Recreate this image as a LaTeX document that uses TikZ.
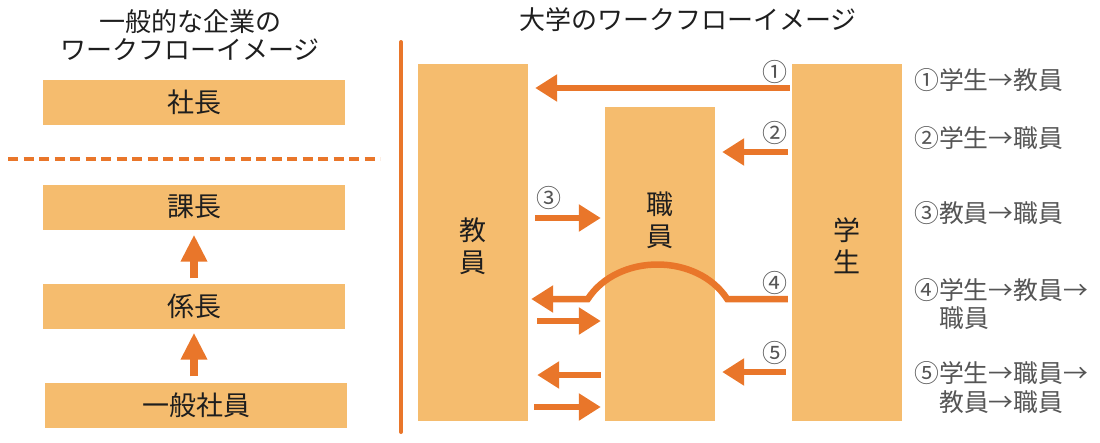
\documentclass[tikz,border=0pt]{standalone}
\usepackage{fontspec}
\setmainfont{Noto Sans CJK JP}
\usetikzlibrary{arrows.meta,calc}
\definecolor{boxfill}{RGB}{245,188,110}
\definecolor{arr}{RGB}{233,118,42}
\definecolor{lbl}{RGB}{85,85,85}
\definecolor{ttl}{RGB}{30,30,30}
\begin{document}
\begin{tikzpicture}[x=1pt,y=-1pt,
  hbox/.style={fill=boxfill, minimum width=302pt, minimum height=45pt, inner sep=0pt,
     font=\fontsize{27}{30}\selectfont, text=ttl},
  vbox/.style={fill=boxfill, minimum width=110pt, inner sep=0pt},
  vtext/.style={align=center, inner sep=0pt, font=\fontsize{27}{32}\selectfont, text=ttl},
  title/.style={inner sep=0pt, font=\fontsize{26}{30}\selectfont, text=ttl},
  flow/.style={draw=arr, line width=6.5pt, -{Triangle[length=22pt,width=26pt]}},
  uparr/.style={draw=arr, line width=8.5pt, -{Triangle[length=27pt,width=25pt]}},
  num/.style={inner sep=0pt, font=\fontsize{25}{28}\selectfont, text=lbl},
  legend/.style={anchor=west, inner sep=0pt, font=\fontsize{24.8}{28}\selectfont, text=lbl}
]
\useasboundingbox (0,0) rectangle (1100,442);

% left column
\node[title] (t1) at (190,22) {一般的な企業の};
\node[title] (t2) at (190,50) {ワークフローイメージ};
\node[hbox] (shacho) at (194,102.5) {社長};
\node[hbox] (kacho) at (194,207) {課長};
\node[hbox] (kakari) at (194,306) {係長};
\node[hbox] (ippan) at (196,405) {一般社員};
\draw[arr, line width=4pt, dash pattern=on 10pt off 5.5pt] (8,159) -- (380,159);
\draw[uparr] ([yshift=5pt]kakari.north) -- ([yshift=-5pt]kacho.south);
\draw[uparr] ([yshift=6pt]ippan.north -| kakari.south) -- ([yshift=-4pt]kakari.south);

% divider
\draw[arr, line width=4pt, line cap=round] (401,42) -- (401,432);

% right title
\node[title] (t3) at (688,20) {大学のワークフローイメージ};

% boxes
\node[vbox, minimum height=357pt] (kyoin) at (473,242.5) {};
\node[vbox, minimum height=314pt] (shokuin) at (660,264) {};
\node[vbox, minimum height=357pt] (gakusei) at (847,242.5) {};
\node[vtext] (kyointxt) at (473,246) {教\\員};
\node[vtext] (shokuintxt) at (660,220) {職\\員};
\node[vtext] (gakuseitxt) at (847,246) {学\\生};

% y levels
\coordinate (y1) at (0,88);
\coordinate (y2) at (0,152);
\coordinate (y3) at (0,218);
\coordinate (y4) at (0,299);
\coordinate (y4b) at (0,321);
\coordinate (y5) at (0,372);
\coordinate (y5b) at (0,375);
\coordinate (y5c) at (0,407);

\draw[flow] ($(gakusei.west |- y1)+(-2,0)$) -- ($(kyoin.east |- y1)+(7,0)$);
\draw[flow] ($(gakusei.west |- y2)+(-4,0)$) -- ($(shokuin.east |- y2)+(7,0)$);
\draw[flow] ($(kyoin.east |- y3)+(7,0)$) -- ($(shokuin.west |- y3)+(-4,0)$);
\draw[flow] ($(gakusei.west |- y4)+(-4,0)$) -- ($(shokuin.east |- y4)+(12,0)$)
   .. controls +(-30,-46) and +(30,-46) .. ($(shokuin.west |- y4)+(-17,0)$)
   -- ($(kyoin.east |- y4)+(3,0)$);
\draw[flow] ($(kyoin.east |- y4b)+(9,0)$) -- ($(shokuin.west |- y4b)+(-4,0)$);
\draw[flow] ($(gakusei.west |- y5)+(-6,0)$) -- ($(shokuin.east |- y5)+(7,0)$);
\draw[flow] ($(shokuin.west |- y5b)+(-4,0)$) -- ($(kyoin.east |- y5b)+(9,0)$);
\draw[flow] ($(kyoin.east |- y5c)+(6,0)$) -- ($(shokuin.west |- y5c)+(-4,0)$);

% numbers
\node[num] (n1) at (775,72) {①};
\node[num] (n2) at (775,133) {②};
\node[num] (n3) at (549,198) {③};
\node[num] (n4) at (775,283) {④};
\node[num] (n5) at (775,353) {⑤};

% legend
\node[legend] (l1) at (914,80) {①学生→教員};
\node[legend] (l2) at (914,138) {②学生→職員};
\node[legend] (l3) at (914,213) {③教員→職員};
\node[legend] (l4) at (914,290) {④学生→教員→};
\node[legend] (l4b) at (939,318) {職員};
\node[legend] (l5) at (914,373) {⑤学生→職員→};
\node[legend] (l5b) at (939,402) {教員→職員};
\end{tikzpicture}
\end{document}
